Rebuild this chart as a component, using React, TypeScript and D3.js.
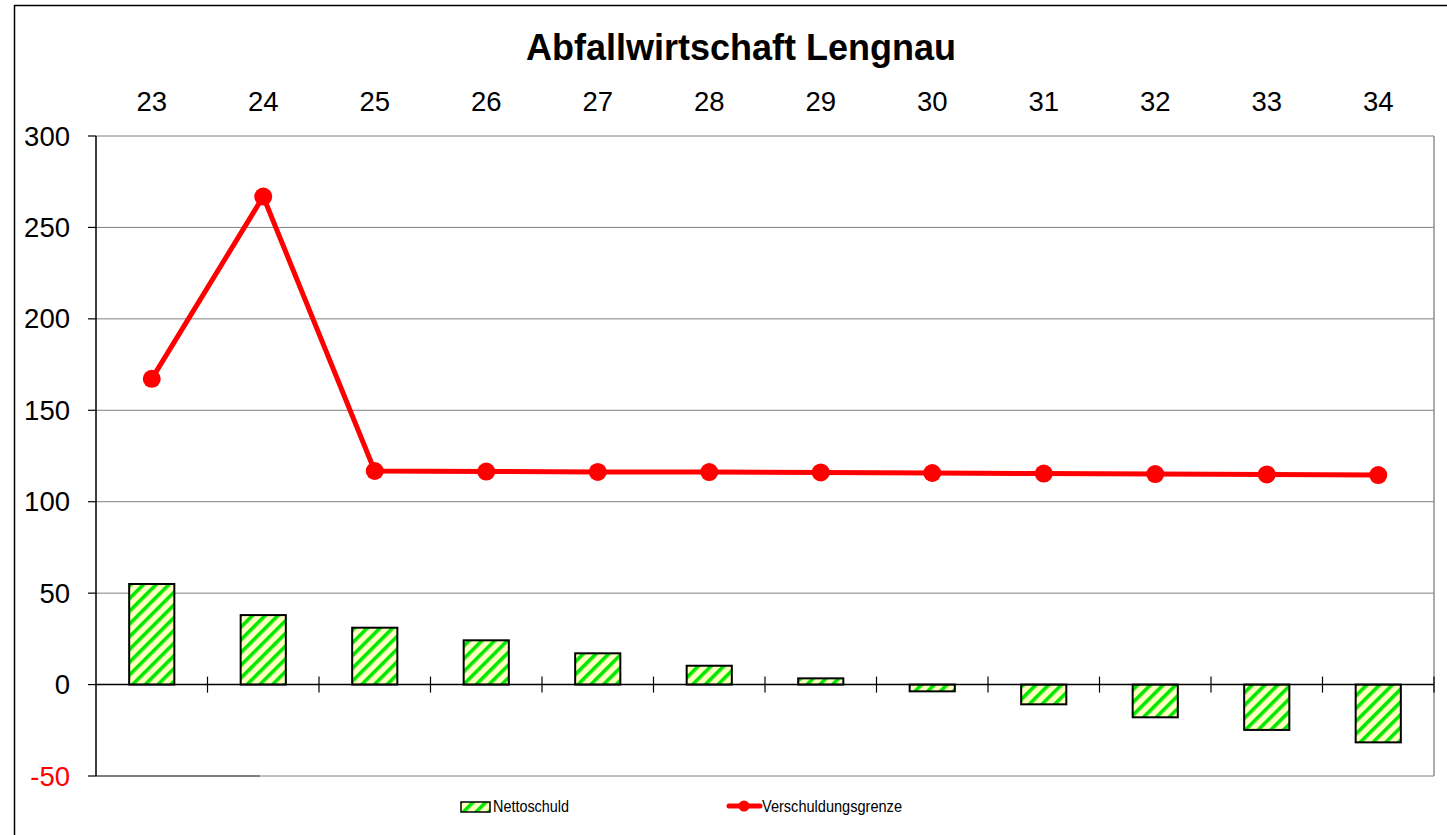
import React from "react";
import * as d3 from "d3";

const categories = ["23", "24", "25", "26", "27", "28", "29", "30", "31", "32", "33", "34"];
const nettoschuld = [55, 38, 31.1, 24.2, 17.1, 10.3, 3.4, -3.7, -10.8, -17.9, -24.8, -31.6];
const verschuldungsgrenze = [167.2, 266.9, 116.8, 116.5, 116.3, 116.2, 116.0, 115.7, 115.4, 115.1, 114.9, 114.6];
const yTicks = [-50, 0, 50, 100, 150, 200, 250, 300];
const title = "Abfallwirtschaft Lengnau";

const W = 1447;
const H = 835;
const L = 96, R = 1434, T = 136, B = 776;
const FONT = "'Liberation Sans', Arial, sans-serif";

export default function App() {
  const x = d3.scaleBand<string>().domain(categories).range([L, R]).paddingInner(0).paddingOuter(0);
  const y = d3.scaleLinear().domain([-50, 300]).range([B, T]);
  const bw = x.bandwidth() * 0.405;
  const line = d3
    .line<number>()
    .x((_, i) => (x(categories[i]) as number) + x.bandwidth() / 2)
    .y((d) => y(d));
  const y0 = y(0);

  return (
    <div style={{ position: "fixed", left: 0, top: 0, width: W, height: H, background: "#fff" }}>
      <svg width={W} height={H} style={{ display: "block" }} fontFamily={FONT}>
        <defs>
          <pattern id="hatch" width={9} height={9} patternUnits="userSpaceOnUse" patternTransform="rotate(45)">
            <rect width={9} height={9} fill="#FFFFC0" />
            <rect width={3.6} height={9} fill="#00E800" />
          </pattern>
        </defs>
        <rect x={14.5} y={5.5} width={W + 10} height={H + 10} fill="#fff" stroke="#000" strokeWidth={1.5} />
        <text x={741} y={60} textAnchor="middle" fontSize={36} fontWeight="bold">
          {title}
        </text>
        {/* gridlines */}
        {yTicks.map((t) => (
          <line key={"g" + t} x1={L} x2={R} y1={y(t)} y2={y(t)} stroke={t === 0 ? "none" : "#808080"} strokeWidth={1} />
        ))}
        <line x1={L} x2={260} y1={B} y2={B} stroke="#404040" strokeWidth={1.2} />
        <line x1={R} x2={R} y1={T} y2={B} stroke="#909090" strokeWidth={1.5} />
        {/* bars */}
        {nettoschuld.map((v, i) => {
          const cx = (x(categories[i]) as number) + x.bandwidth() / 2;
          const yy = Math.min(y(v), y0);
          const h = Math.abs(y(v) - y0);
          return (
            <rect key={"b" + i} x={cx - bw / 2} y={yy} width={bw} height={h} fill="url(#hatch)" stroke="#000" strokeWidth={2} />
          );
        })}
        {/* zero axis */}
        <line x1={L} x2={R} y1={y0} y2={y0} stroke="#000" strokeWidth={1.5} />
        {categories.map((c, i) => {
          const xx = (x(c) as number) + x.bandwidth();
          return <line key={"t" + i} x1={xx} x2={xx} y1={y0 - 8} y2={y0 + 8} stroke="#000" strokeWidth={1.2} />;
        })}
        {/* left axis */}
        <line x1={L} x2={L} y1={T} y2={B} stroke="#000" strokeWidth={1.5} />
        {yTicks.map((t) => (
          <g key={"y" + t}>
            <line x1={L - 8} x2={L} y1={y(t)} y2={y(t)} stroke="#000" strokeWidth={1.2} />
            <text x={70} y={y(t) + 9.5} textAnchor="end" fontSize={27.5} fill={t < 0 ? "#FF0000" : "#000"}>
              {t}
            </text>
          </g>
        ))}
        {/* top category labels */}
        {categories.map((c) => (
          <text key={"c" + c} x={(x(c) as number) + x.bandwidth() / 2} y={111} textAnchor="middle" fontSize={27.5}>
            {c}
          </text>
        ))}
        {/* line */}
        <path d={line(verschuldungsgrenze) || ""} fill="none" stroke="#FF0000" strokeWidth={5} strokeLinejoin="round" />
        {verschuldungsgrenze.map((v, i) => (
          <circle key={"m" + i} cx={(x(categories[i]) as number) + x.bandwidth() / 2} cy={y(v)} r={9} fill="#FF0000" />
        ))}
        {/* legend */}
        <rect x={461} y={802} width={29} height={10} fill="url(#hatch)" stroke="#000" strokeWidth={1.5} />
        <text x={493} y={812} fontSize={17} textLength={76} lengthAdjust="spacingAndGlyphs">Nettoschuld</text>
        <line x1={729} x2={760} y1={806} y2={806} stroke="#FF0000" strokeWidth={5} strokeLinecap="round" />
        <circle cx={744} cy={806} r={5.5} fill="#FF0000" />
        <text x={762} y={812} fontSize={17} textLength={140} lengthAdjust="spacingAndGlyphs">Verschuldungsgrenze</text>
      </svg>
    </div>
  );
}
